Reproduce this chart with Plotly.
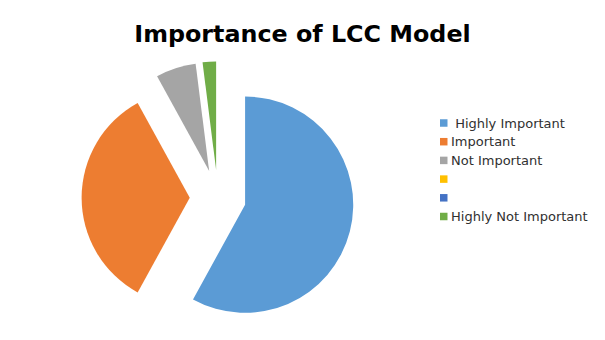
import plotly.graph_objects as go

labels = ["\u00a0Highly Important", "Important", "Not Important", " ", "  ", "Highly Not Important"]
values = [58, 34, 6, 0, 0, 2]
colors = ["#5B9BD5", "#ED7D31", "#A5A5A5", "#FFC000", "#4472C4", "#70AD47"]
pulls = [0.26, 0.26, 0.26, 0.26, 0.26, 0.26]

W, H = 605, 340

fig = go.Figure(go.Pie(
    labels=labels, values=values, sort=False, direction="clockwise", rotation=0,
    marker=dict(colors=colors, line=dict(width=0)),
    pull=pulls, textinfo="none", hoverinfo="skip", showlegend=False,
    domain=dict(x=[0.1349, 0.5853], y=[0.0176, 0.8194]),
))

# Legend (Excel-style: small square swatch, text right next to it)
row0, step = 123.0, 18.7
for i, (lab, col) in enumerate(zip(labels, colors)):
    cy = row0 + step * i
    fig.add_shape(type="rect", xref="paper", yref="paper",
                  x0=440 / W, x1=447.5 / W, y0=1 - (cy + 3.75) / H, y1=1 - (cy - 3.75) / H,
                  fillcolor=col, line=dict(width=0))
    if lab.strip():
        fig.add_annotation(x=449 / W, y=1 - cy / H, xref="paper", yref="paper",
                           text=lab, showarrow=False, xanchor="left", yanchor="middle",
                           font=dict(family="DejaVu Sans", size=13, color="#303030"))

fig.update_layout(
    width=W, height=H, margin=dict(l=0, r=0, t=0, b=0),
    paper_bgcolor="white", plot_bgcolor="white",
    font=dict(family="DejaVu Sans", color="#404040"),
    title=dict(text="<b>Importance of LCC Model</b>", x=0.5, xanchor="center", y=0.9, yanchor="middle",
               font=dict(family="DejaVu Sans", size=23.8, color="black")),
    showlegend=False,
)
fig.write_html("out.html")
